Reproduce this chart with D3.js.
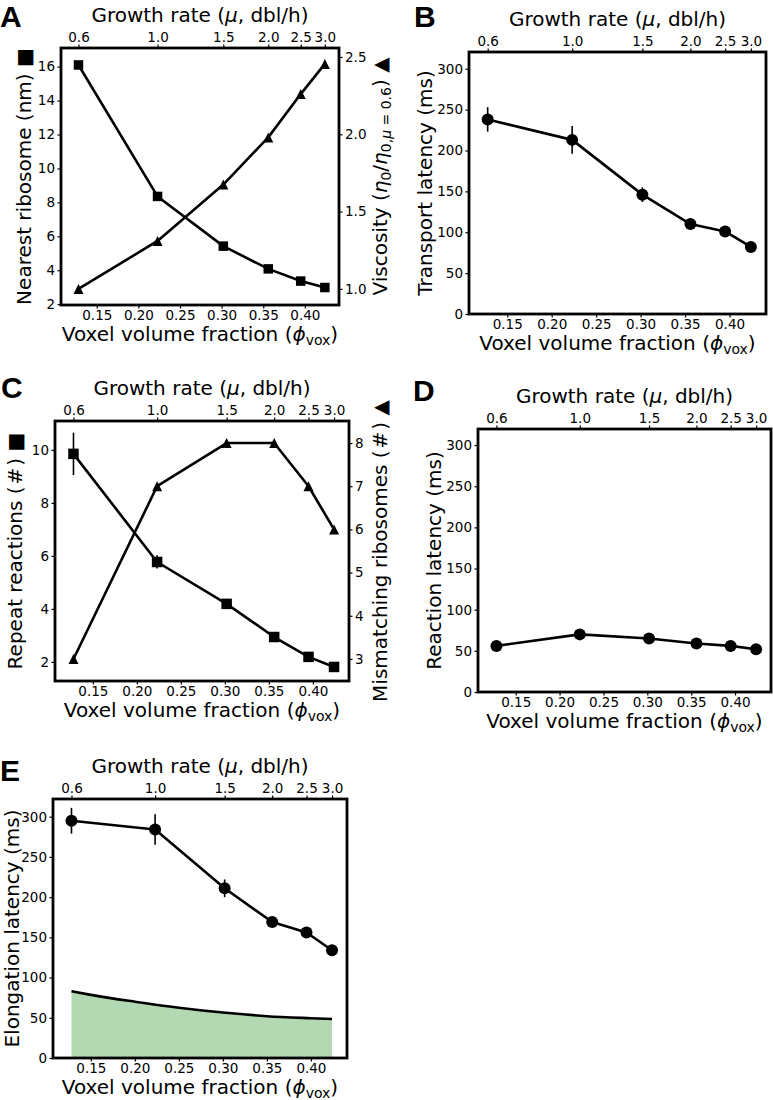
<!DOCTYPE html>
<html>
<head>
<meta charset="utf-8">
<script src="https://cdn.jsdelivr.net/npm/d3@7"></script>
<style>
  html, body { margin: 0; padding: 0; background: #fff; }
  svg { display: block; font-family: "DejaVu Sans", sans-serif; }
</style>
</head>
<body>
<svg id="fig" width="773" height="1100"></svg>
<script>
// ---------------- data ----------------
const phiVox = [0.128, 0.223, 0.302, 0.356, 0.395, 0.424];
const growthRateLabels = [0.6, 1.0, 1.5, 2.0, 2.5, 3.0];
const phiTicks = [0.15, 0.20, 0.25, 0.30, 0.35, 0.40];

const nearestRibosome = [16.1, 8.35, 5.42, 4.08, 3.36, 2.98];
const nearestTicks = [2, 4, 6, 8, 10, 12, 14, 16];
const viscosity = [1.0, 1.31, 1.675, 1.98, 2.26, 2.455];
const viscosityTicks = [1.0, 1.5, 2.0, 2.5];

const transportLatency = [238, 213, 146, 110, 101, 82];
const transportErr = [15, 17, 9, 3, 3, 2];

const repeatReactions = [9.85, 5.77, 4.19, 2.94, 2.19, 1.81];
const repeatErr = [0.8, 0.25, 0.1, 0.08, 0.05, 0.05];
const repeatTicks = [2, 4, 6, 8, 10];
const mismatching = [3, 7, 8, 8, 7, 6];
const mismatchTicks = [3, 4, 5, 6, 7, 8];

const reactionLatency = [56, 70, 65, 59, 56, 52];

const elongationLatency = [295, 284, 211, 169, 156, 134];
const elongationErr = [16, 19, 11, 4, 3, 3];
const floorPhi = [0.128, 0.15, 0.20, 0.25, 0.30, 0.35, 0.40, 0.424];
const floorLatency = [83, 78.5, 70, 62.5, 56.5, 52, 49.5, 48.5];

const latencyTicks = [0, 50, 100, 150, 200, 250, 300];

// ---------------- drawing ----------------
const svg = d3.select("#fig");
const TICK_FONT = 13.5, LABEL_FONT = 20;

function styleAxis(g) {
  g.select(".domain").remove();
  g.selectAll(".tick line").attr("stroke", "#000").attr("stroke-width", 1.2);
  g.selectAll(".tick text").attr("fill", "#000").attr("font-size", TICK_FONT)
    .attr("font-family", "DejaVu Sans");
}

function xLabel(g, cx, y) {
  const t = g.append("text").attr("x", cx).attr("y", y).attr("text-anchor", "middle")
    .attr("font-size", LABEL_FONT).attr("fill", "#000");
  t.append("tspan").text("Voxel volume fraction (");
  t.append("tspan").attr("font-style", "italic").text("\u03D5");
  t.append("tspan").attr("font-size", 14).attr("dy", 4).text("vox");
  t.append("tspan").attr("dy", -4).text(")");
}

function title(g, cx, y) {
  const t = g.append("text").attr("x", cx).attr("y", y).attr("text-anchor", "middle")
    .attr("font-size", LABEL_FONT).attr("fill", "#000");
  t.append("tspan").text("Growth rate (");
  t.append("tspan").attr("font-style", "italic").text("\u03BC");
  t.append("tspan").text(", dbl/h)");
}

function yLabel(g, bx, cy, build) {
  const t = g.append("text").attr("transform", `translate(${bx},${cy}) rotate(-90)`)
    .attr("text-anchor", "middle").attr("font-size", LABEL_FONT).attr("fill", "#000");
  build(t);
}

function panel(o) {
  const g = svg.append("g");
  const x = d3.scaleLinear().domain([0.107, 0.441]).range([o.left, o.right]);
  const y = d3.scaleLinear().domain(o.yDomain).range([o.bottom, o.top]);
  const cx = (o.left + o.right) / 2, cy = (o.top + o.bottom) / 2;

  // axes
  g.append("g").attr("transform", `translate(0,${o.bottom})`)
    .call(d3.axisBottom(x).tickValues(phiTicks).tickFormat(d3.format(".2f")).tickSize(3.5).tickPadding(1.5))
    .call(styleAxis);
  g.append("g").attr("transform", `translate(0,${o.top})`)
    .call(d3.axisTop(x).tickValues(phiVox).tickFormat((d, i) => growthRateLabels[i].toFixed(1)).tickSize(3.5).tickPadding(2.5))
    .call(styleAxis);
  g.append("g").attr("transform", `translate(${o.left},0)`)
    .call(d3.axisLeft(y).tickValues(o.yTicks).tickFormat(o.yFormat || d3.format("d")).tickSize(3.5).tickPadding(2.5))
    .call(styleAxis);

  let y2 = null;
  if (o.y2Domain) {
    y2 = d3.scaleLinear().domain(o.y2Domain).range([o.bottom, o.top]);
    g.append("g").attr("transform", `translate(${o.right},0)`)
      .call(d3.axisRight(y2).tickValues(o.y2Ticks).tickFormat(o.y2Format || d3.format("d")).tickSize(3.5).tickPadding(2.5))
      .call(styleAxis);
  }

  title(g, cx, o.top - 26);
  xLabel(g, cx, o.bottom + 36);
  yLabel(g, o.yLabelX, cy, o.yLabel);
  if (o.y2Label) yLabel(g, o.y2LabelX, cy, o.y2Label);

  g.append("text").attr("x", o.letterX).attr("y", o.letterY)
    .attr("font-family", "Liberation Sans, Arial, sans-serif").attr("font-weight", "bold")
    .attr("font-size", 30).attr("fill", "#000").text(o.letter);

  const plot = g.append("g");
  if (o.draw) o.draw(plot, x, y, y2);

  g.append("rect").attr("x", o.left).attr("y", o.top)
    .attr("width", o.right - o.left).attr("height", o.bottom - o.top)
    .attr("fill", "none").attr("stroke", "#000").attr("stroke-width", 2.8);
  return g;
}

function lineSeries(p, x, y, vals) {
  p.append("path").datum(vals)
    .attr("d", d3.line().x((d, i) => x(phiVox[i])).y(d => y(d)))
    .attr("fill", "none").attr("stroke", "#000").attr("stroke-width", 2.6).attr("stroke-linejoin", "round");
}
function errBars(p, x, y, vals, errs) {
  p.selectAll(null).data(vals).enter().append("line")
    .attr("x1", (d, i) => x(phiVox[i])).attr("x2", (d, i) => x(phiVox[i]))
    .attr("y1", (d, i) => y(d - errs[i])).attr("y2", (d, i) => y(d + errs[i]))
    .attr("stroke", "#000").attr("stroke-width", 1.6);
}
function circles(p, x, y, vals) {
  p.selectAll(null).data(vals).enter().append("circle")
    .attr("cx", (d, i) => x(phiVox[i])).attr("cy", d => y(d)).attr("r", 6).attr("fill", "#000");
}
function squares(p, x, y, vals, s) {
  p.selectAll(null).data(vals).enter().append("rect")
    .attr("x", (d, i) => x(phiVox[i]) - s / 2).attr("y", d => y(d) - s / 2)
    .attr("width", s).attr("height", s).attr("fill", "#000");
}
function triangles(p, x, y, vals, s) {
  p.selectAll(null).data(vals).enter().append("path")
    .attr("transform", (d, i) => `translate(${x(phiVox[i])},${y(d)})`)
    .attr("d", `M0,${-s / 2}L${s / 2},${s / 2}L${-s / 2},${s / 2}Z`).attr("fill", "#000");
}

// Panel A
panel({
  letter: "A", letterX: 0, letterY: 27,
  left: 61, right: 339, top: 48, bottom: 305,
  yDomain: [1.95, 17.1], yTicks: nearestTicks,
  y2Domain: [0.896, 2.558], y2Ticks: viscosityTicks, y2Format: d3.format(".1f"),
  yLabelX: 31, y2LabelX: 387,
  yLabel: t => t.text("Nearest ribosome (nm) \u25A0"),
  y2Label: t => {
    t.append("tspan").text("Viscosity (");
    t.append("tspan").attr("font-style", "italic").text("\u03B7");
    t.append("tspan").attr("font-size", 14).attr("dy", 4).text("0");
    t.append("tspan").attr("dy", -4).text("/");
    t.append("tspan").attr("font-style", "italic").text("\u03B7");
    t.append("tspan").attr("font-size", 14).attr("dy", 4).text("0,");
    t.append("tspan").attr("font-size", 14).attr("font-style", "italic").text("\u03BC");
    t.append("tspan").attr("font-size", 14).text(" = 0.6");
    t.append("tspan").attr("dy", -4).text(") \u25B2");
  },
  draw: (p, x, y, y2) => {
    lineSeries(p, x, y, nearestRibosome);
    lineSeries(p, x, y2, viscosity);
    squares(p, x, y, nearestRibosome, 9.5);
    triangles(p, x, y2, viscosity, 10);
  }
});

// Panel B
panel({
  letter: "B", letterX: 414, letterY: 27,
  left: 469, right: 766, top: 52, bottom: 314,
  yDomain: [0, 320.5], yTicks: latencyTicks,
  yLabelX: 432,
  yLabel: t => t.text("Transport latency (ms)"),
  draw: (p, x, y) => {
    errBars(p, x, y, transportLatency, transportErr);
    lineSeries(p, x, y, transportLatency);
    circles(p, x, y, transportLatency);
  }
});

// Panel C
panel({
  letter: "C", letterX: 1, letterY: 398,
  left: 55, right: 349, top: 421, bottom: 681,
  yDomain: [1.28, 11.09], yTicks: repeatTicks,
  y2Domain: [2.49, 8.51], y2Ticks: mismatchTicks,
  yLabelX: 22, y2LabelX: 387,
  yLabel: t => t.text("Repeat reactions (\u200A#\u200A) \u25A0"),
  y2Label: t => t.text("Mismatching ribosomes (\u200A#\u200A) \u25B2"),
  draw: (p, x, y, y2) => {
    errBars(p, x, y, repeatReactions, repeatErr);
    lineSeries(p, x, y, repeatReactions);
    lineSeries(p, x, y2, mismatching);
    squares(p, x, y, repeatReactions, 10.5);
    triangles(p, x, y2, mismatching, 10);
  }
});

// Panel D
panel({
  letter: "D", letterX: 413, letterY: 401,
  left: 478, right: 771, top: 429, bottom: 692,
  yDomain: [0, 319.5], yTicks: latencyTicks,
  yLabelX: 441,
  yLabel: t => t.text("Reaction latency (ms)"),
  draw: (p, x, y) => {
    lineSeries(p, x, y, reactionLatency);
    circles(p, x, y, reactionLatency);
  }
});

// Panel E
panel({
  letter: "E", letterX: 0, letterY: 781,
  left: 53, right: 347, top: 799, bottom: 1058,
  yDomain: [0, 322], yTicks: latencyTicks,
  yLabelX: 18.5,
  yLabel: t => t.text("Elongation latency (ms)"),
  draw: (p, x, y) => {
    const pts = floorPhi.map((f, i) => [f, floorLatency[i]]);
    p.append("path").datum(pts)
      .attr("d", d3.area().x(d => x(d[0])).y0(y(0)).y1(d => y(d[1])).curve(d3.curveMonotoneX))
      .attr("fill", "#b3d9b3");
    p.append("path").datum(pts)
      .attr("d", d3.line().x(d => x(d[0])).y(d => y(d[1])).curve(d3.curveMonotoneX))
      .attr("fill", "none").attr("stroke", "#000").attr("stroke-width", 2.6);
    errBars(p, x, y, elongationLatency, elongationErr);
    lineSeries(p, x, y, elongationLatency);
    circles(p, x, y, elongationLatency);
  }
});
</script>
</body>
</html>
